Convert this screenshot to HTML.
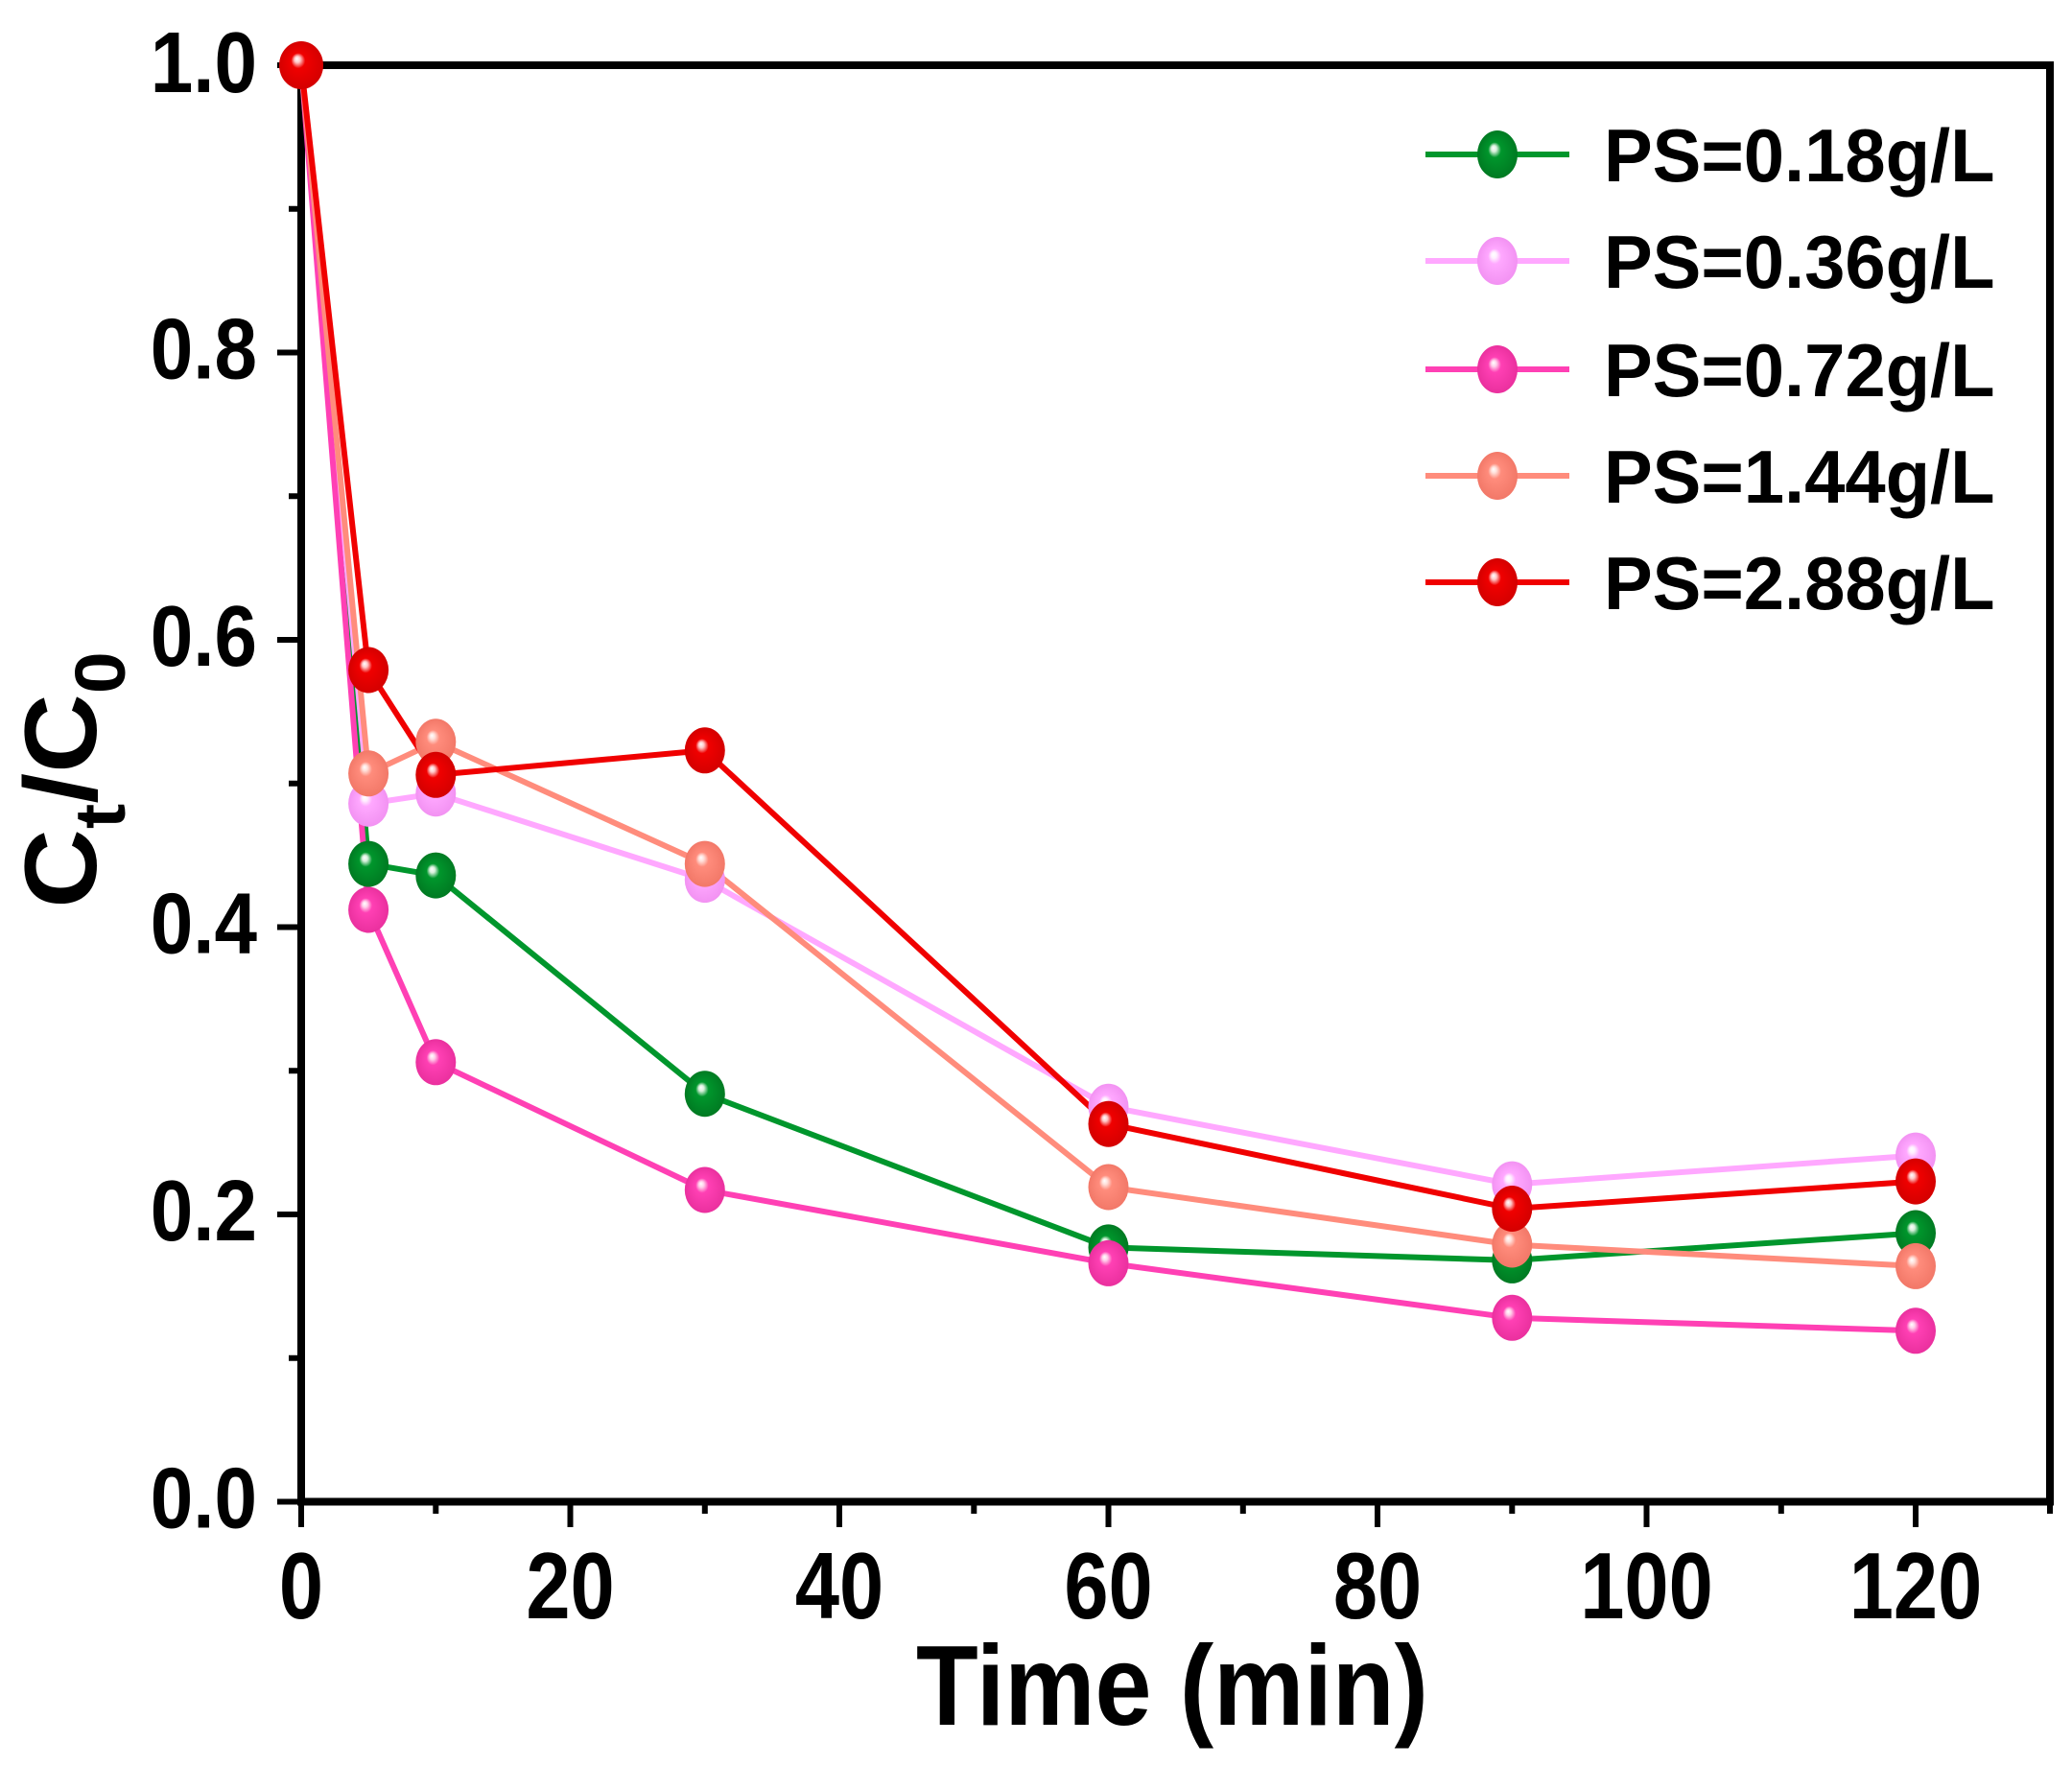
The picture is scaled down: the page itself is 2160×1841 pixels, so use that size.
<!DOCTYPE html>
<html><head><meta charset="utf-8"><style>
html,body{margin:0;padding:0;background:#fff;}
svg{display:block;}
text{font-family:"Liberation Sans",Arial,sans-serif;font-weight:bold;fill:#000;}
</style></head><body>
<svg width="2160" height="1841" viewBox="0 0 2160 1841" xmlns="http://www.w3.org/2000/svg">
<defs>
<radialGradient id="gG" cx="0.5" cy="0.5" r="0.5" fx="0.4" fy="0.36"><stop offset="0" stop-color="#fff"/><stop offset="0.13" stop-color="#d8f0dc"/><stop offset="0.32" stop-color="#00962c"/><stop offset="1" stop-color="#007a22"/></radialGradient>
<radialGradient id="gL" cx="0.5" cy="0.5" r="0.5" fx="0.4" fy="0.36"><stop offset="0" stop-color="#fff"/><stop offset="0.13" stop-color="#fff0ff"/><stop offset="0.32" stop-color="#ffa8ff"/><stop offset="1" stop-color="#f292f2"/></radialGradient>
<radialGradient id="gM" cx="0.5" cy="0.5" r="0.5" fx="0.4" fy="0.36"><stop offset="0" stop-color="#fff"/><stop offset="0.13" stop-color="#ffd0ea"/><stop offset="0.32" stop-color="#ff40b4"/><stop offset="1" stop-color="#ea309e"/></radialGradient>
<radialGradient id="gS" cx="0.5" cy="0.5" r="0.5" fx="0.4" fy="0.36"><stop offset="0" stop-color="#fff"/><stop offset="0.13" stop-color="#ffe0da"/><stop offset="0.32" stop-color="#ff8c7c"/><stop offset="1" stop-color="#f27868"/></radialGradient>
<radialGradient id="gR" cx="0.5" cy="0.5" r="0.5" fx="0.4" fy="0.36"><stop offset="0" stop-color="#fff"/><stop offset="0.13" stop-color="#ffc8c8"/><stop offset="0.32" stop-color="#f00000"/><stop offset="1" stop-color="#d40000"/></radialGradient>
</defs>

<!-- frame -->
<rect x="314" y="68" width="1823" height="1497.5" fill="none" stroke="#000" stroke-width="8"/>

<!-- y ticks -->
<g stroke="#000" stroke-width="6">
<line x1="289" y1="1565.5" x2="314" y2="1565.5"/>
<line x1="289" y1="1266" x2="314" y2="1266"/>
<line x1="289" y1="966.5" x2="314" y2="966.5"/>
<line x1="289" y1="667" x2="314" y2="667"/>
<line x1="289" y1="367.5" x2="314" y2="367.5"/>
<line x1="289" y1="68" x2="314" y2="68"/>
<line x1="301" y1="1415.75" x2="314" y2="1415.75"/>
<line x1="301" y1="1116.25" x2="314" y2="1116.25"/>
<line x1="301" y1="816.75" x2="314" y2="816.75"/>
<line x1="301" y1="517.25" x2="314" y2="517.25"/>
<line x1="301" y1="217.75" x2="314" y2="217.75"/>
<!-- x ticks -->
<line x1="314" y1="1565" x2="314" y2="1592"/>
<line x1="594.5" y1="1565" x2="594.5" y2="1592"/>
<line x1="875" y1="1565" x2="875" y2="1592"/>
<line x1="1155.5" y1="1565" x2="1155.5" y2="1592"/>
<line x1="1436" y1="1565" x2="1436" y2="1592"/>
<line x1="1716.5" y1="1565" x2="1716.5" y2="1592"/>
<line x1="1997" y1="1565" x2="1997" y2="1592"/>
<line x1="454.3" y1="1565" x2="454.3" y2="1578"/>
<line x1="734.8" y1="1565" x2="734.8" y2="1578"/>
<line x1="1015.3" y1="1565" x2="1015.3" y2="1578"/>
<line x1="1295.8" y1="1565" x2="1295.8" y2="1578"/>
<line x1="1576.3" y1="1565" x2="1576.3" y2="1578"/>
<line x1="1856.8" y1="1565" x2="1856.8" y2="1578"/>
<line x1="2137" y1="1565" x2="2137" y2="1578"/>
</g>

<!-- y tick labels -->
<g font-size="80" text-anchor="end">
<text transform="translate(268,1592.5) scale(1,1.12)">0.0</text>
<text transform="translate(268,1293) scale(1,1.12)">0.2</text>
<text transform="translate(268,993.5) scale(1,1.12)">0.4</text>
<text transform="translate(268,694) scale(1,1.12)">0.6</text>
<text transform="translate(268,394.5) scale(1,1.12)">0.8</text>
<text transform="translate(268,96) scale(1,1.12)">1.0</text>
</g>
<!-- x tick labels -->
<g font-size="83" text-anchor="middle">
<text transform="translate(314,1687) scale(1,1.18)">0</text>
<text transform="translate(594.5,1687) scale(1,1.18)">20</text>
<text transform="translate(875,1687) scale(1,1.18)">40</text>
<text transform="translate(1155.5,1687) scale(1,1.18)">60</text>
<text transform="translate(1436,1687) scale(1,1.18)">80</text>
<text transform="translate(1716.5,1687) scale(1,1.18)">100</text>
<text transform="translate(1997,1687) scale(1,1.18)">120</text>
</g>

<!-- axis titles -->
<text transform="translate(955,1798) scale(1,1.12)" font-size="106">Time (min)</text>
<text transform="translate(100,813) rotate(-90) scale(1.07,1)" font-size="107" text-anchor="middle">C<tspan font-size="74" dy="30">t</tspan><tspan dy="-30">/C</tspan><tspan font-size="74" dy="30">0</tspan></text>

<!-- series lines -->
<g fill="none" stroke-width="6" stroke-linejoin="round">
<polyline stroke="#00962c" points="314,68 384.1,900.6 454.3,912.6 734.8,1140.2 1155.5,1300.4 1576.3,1313.9 1997,1285.5"/>
<polyline stroke="#ffa8ff" points="314,68 384.1,837.7 454.3,827.2 734.8,917.1 1155.5,1153.7 1576.3,1234.6 1997,1204.6"/>
<polyline stroke="#ff40b4" points="314,68 384.1,948.5 454.3,1107.3 734.8,1240.5 1155.5,1316.9 1576.3,1373.8 1997,1387.3"/>
<polyline stroke="#ff8c7c" points="314,68 384.1,806.3 454.3,773.3 734.8,900.6 1155.5,1237.5 1576.3,1297.5 1997,1319.9"/>
<polyline stroke="#f00000" points="314,68 384.1,698.5 454.3,807.8 734.8,782.3 1155.5,1171.7 1576.3,1260 1997,1231.6"/>
</g>

<!-- markers -->
<g>
<g fill="url(#gG)">
<ellipse cx="384.1" cy="900.6" rx="21" ry="24"/><ellipse cx="454.3" cy="912.6" rx="21" ry="24"/><ellipse cx="734.8" cy="1140.2" rx="21" ry="24"/><ellipse cx="1155.5" cy="1300.4" rx="21" ry="24"/><ellipse cx="1576.3" cy="1313.9" rx="21" ry="24"/><ellipse cx="1997" cy="1285.5" rx="21" ry="24"/>
</g>
<g fill="url(#gL)">
<ellipse cx="384.1" cy="837.7" rx="21" ry="24"/><ellipse cx="454.3" cy="827.2" rx="21" ry="24"/><ellipse cx="734.8" cy="917.1" rx="21" ry="24"/><ellipse cx="1155.5" cy="1153.7" rx="21" ry="24"/><ellipse cx="1576.3" cy="1234.6" rx="21" ry="24"/><ellipse cx="1997" cy="1204.6" rx="21" ry="24"/>
</g>
<g fill="url(#gM)">
<ellipse cx="384.1" cy="948.5" rx="21" ry="24"/><ellipse cx="454.3" cy="1107.3" rx="21" ry="24"/><ellipse cx="734.8" cy="1240.5" rx="21" ry="24"/><ellipse cx="1155.5" cy="1316.9" rx="21" ry="24"/><ellipse cx="1576.3" cy="1373.8" rx="21" ry="24"/><ellipse cx="1997" cy="1387.3" rx="21" ry="24"/>
</g>
<g fill="url(#gS)">
<ellipse cx="384.1" cy="806.3" rx="21" ry="24"/><ellipse cx="454.3" cy="773.3" rx="21" ry="24"/><ellipse cx="734.8" cy="900.6" rx="21" ry="24"/><ellipse cx="1155.5" cy="1237.5" rx="21" ry="24"/><ellipse cx="1576.3" cy="1297.5" rx="21" ry="24"/><ellipse cx="1997" cy="1319.9" rx="21" ry="24"/>
</g>
<g fill="url(#gR)">
<ellipse cx="314" cy="68" rx="23" ry="25"/><ellipse cx="384.1" cy="698.5" rx="21" ry="24"/><ellipse cx="454.3" cy="807.8" rx="21" ry="24"/><ellipse cx="734.8" cy="782.3" rx="21" ry="24"/><ellipse cx="1155.5" cy="1171.7" rx="21" ry="24"/><ellipse cx="1576.3" cy="1260" rx="21" ry="24"/><ellipse cx="1997" cy="1231.6" rx="21" ry="24"/>
</g>
</g>

<!-- legend -->
<g stroke-width="6">
<line x1="1486" y1="161" x2="1636" y2="161" stroke="#00962c"/>
<line x1="1486" y1="272" x2="1636" y2="272" stroke="#ffa8ff"/>
<line x1="1486" y1="385" x2="1636" y2="385" stroke="#ff40b4"/>
<line x1="1486" y1="496" x2="1636" y2="496" stroke="#ff8c7c"/>
<line x1="1486" y1="607" x2="1636" y2="607" stroke="#f00000"/>
</g>
<ellipse cx="1561" cy="161" rx="21" ry="25" fill="url(#gG)"/>
<ellipse cx="1561" cy="272" rx="21" ry="25" fill="url(#gL)"/>
<ellipse cx="1561" cy="385" rx="21" ry="25" fill="url(#gM)"/>
<ellipse cx="1561" cy="496" rx="21" ry="25" fill="url(#gS)"/>
<ellipse cx="1561" cy="607" rx="21" ry="25" fill="url(#gR)"/>
<g font-size="76">
<text transform="translate(1672,189) scale(1,1.03)">PS=0.18g/L</text>
<text transform="translate(1672,300) scale(1,1.03)">PS=0.36g/L</text>
<text transform="translate(1672,413) scale(1,1.03)">PS=0.72g/L</text>
<text transform="translate(1672,524) scale(1,1.03)">PS=1.44g/L</text>
<text transform="translate(1672,635) scale(1,1.03)">PS=2.88g/L</text>
</g>
</svg>
</body></html>
